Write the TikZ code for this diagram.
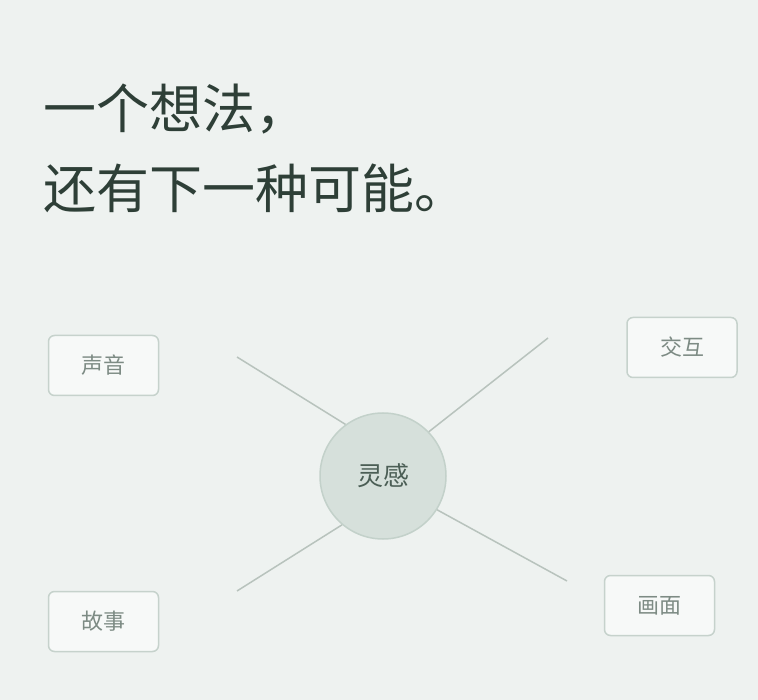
\documentclass[tikz,border=0pt]{standalone}
\usepackage{fontspec}
\setmainfont{Noto Sans CJK SC}
\usetikzlibrary{positioning}
\definecolor{bg}{HTML}{EEF2F0}
\definecolor{ink}{HTML}{2E3F37}
\definecolor{coreFill}{HTML}{D6E0DB}
\definecolor{coreEdge}{HTML}{C3D1CA}
\definecolor{coreText}{HTML}{4B5E55}
\definecolor{boxFill}{HTML}{F7F9F8}
\definecolor{boxEdge}{HTML}{C6D2CC}
\definecolor{boxText}{HTML}{7D8B84}
\definecolor{spoke}{HTML}{B8C3BD}
\begin{document}
\begin{tikzpicture}[x=1pt,y=-1pt,
    title node/.style={anchor=base west,inner sep=0pt,text=ink,font=\fontsize{53}{60}\selectfont},
    core node/.style={circle,draw=coreEdge,line width=1.5pt,fill=coreFill,minimum size=126pt,inner sep=0pt,text=coreText,font=\fontsize{26}{30}\selectfont},
    idea node/.style={rectangle,rounded corners=6pt,draw=boxEdge,line width=1.5pt,fill=boxFill,minimum width=110pt,minimum height=60pt,inner sep=0pt,text=boxText,font=\fontsize{22}{26}\selectfont},
    spoke line/.style={draw=spoke,line width=1.5pt}]

            \fill[bg] (0,0) rectangle (758,700);
            \useasboundingbox (0,0) rectangle (758,700);

            \node[title node] (t1) at (43,129) {一个想法，};
            \node[title node] (t2) at (43,209) {还有下一种可能。};

            \coordinate (ul) at (237,357);
            \coordinate (ur) at (548,338);
            \coordinate (ll) at (237,591);
            \coordinate (lr) at (567,581);

            \node[core node] (core) at (383,476) {灵感};

            \node[idea node] (sound) at (103.5,365.5) {声音};
            \node[idea node] (inter) at (682,347.5) {交互};
            \node[idea node] (story) at (103.5,621.5) {故事};
            \node[idea node] (image) at (659.5,605.5) {画面};

            \draw[spoke line] (ul) to (core.126);
            \draw[spoke line] (ur) to (core.44);
            \draw[spoke line] (ll) to (core.230);
            \draw[spoke line] (lr) to (core.328);

            ;
        \end{tikzpicture}
\end{document}
